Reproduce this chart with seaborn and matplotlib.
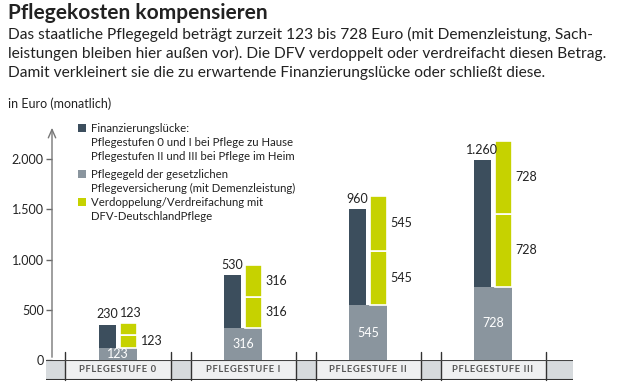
import numpy as np
import matplotlib.pyplot as plt
import matplotlib.ticker as mticker
from matplotlib.patches import Rectangle
import seaborn as sns
import pandas as pd

# Daten
stufen = ['PFLEGESTUFE 0', 'PFLEGESTUFE I', 'PFLEGESTUFE II', 'PFLEGESTUFE III']
pflegegeld = [123, 316, 545, 728]
luecke = [230, 530, 960, 1260]

c_dark = '#3c4e5d'
c_grey = '#8a959e'
c_yellow = '#c6d200'
c_text = '#222222'

sns.set_theme(style='white')
plt.rcParams['font.family'] = ['Lato', 'DejaVu Sans']

W, H = 621, 383
fig = plt.figure(figsize=(W / 100, H / 100), dpi=100)


def px(x, y):
    return x / W, 1 - y / H


# Titel und Text
fig.text(*px(8, 13), 'Pflegekosten kompensieren', fontsize=15, fontweight='bold',
         color=c_text, va='center', ha='left')
unter = ['Das staatliche Pflegegeld beträgt zurzeit 123 bis 728 Euro (mit Demenzleistung, Sach-',
         'leistungen bleiben hier außen vor). Die DFV verdoppelt oder verdreifacht diesen Betrag.',
         'Damit verkleinert sie die zu erwartende Finanzierungslücke oder schließt diese.']
for i, zeile in enumerate(unter):
    fig.text(*px(8, 34 + i * 19.5), zeile, fontsize=11.2, color=c_text, va='center', ha='left')
fig.text(*px(8, 104), 'in Euro (monatlich)', fontsize=9, color=c_text, va='center', ha='left')

# Hauptachse
ax = fig.add_axes([52 / W, (H - 360) / H, (573 - 52) / W, (360 - 125) / H])
df = pd.DataFrame({'stufe': stufen, 'pflegegeld': pflegegeld})
sns.barplot(data=df, x='stufe', y='pflegegeld', color=c_grey, width=0.3,
            saturation=1, ax=ax, linewidth=0)

x = np.arange(len(stufen))
bw = 0.13
ax.bar(x - 0.085, luecke, width=bw, bottom=pflegegeld, color=c_dark, linewidth=0)
for k in range(2):
    ax.bar(x + 0.085, pflegegeld, width=bw + 0.01,
           bottom=np.array(pflegegeld) * (k + 1), color=c_yellow,
           edgecolor='white', linewidth=1.2)

# Beschriftungen
for i in range(len(stufen)):
    g = pflegegeld[i]
    ax.text(x[i], g / 2, str(g), color='white', ha='center', va='center', fontsize=9)
    top = g + luecke[i]
    ax.annotate(f'{luecke[i]:,}'.replace(',', '.'), (x[i] - 0.085, top), xytext=(0, 3),
                textcoords='offset points', ha='center', va='bottom', fontsize=9, color=c_text)
    for k in range(2):
        mitte = g * (k + 1) + g / 2
        if i == 0 and k == 1:
            ax.annotate(str(g), (x[i] + 0.105, g * 3), xytext=(0, 3),
                        textcoords='offset points', ha='center', va='bottom',
                        fontsize=9, color=c_text)
        else:
            ax.text(x[i] + 0.085 + bw / 2 + 0.03, mitte, str(g), ha='left', va='center',
                    fontsize=9, color=c_text)

ax.set_xlim(-0.528, 3.64)
ax.set_ylim(0, 2340)
ax.set_xticks([])
ax.set_xlabel('')
ax.set_ylabel('')
ax.set_yticks([0, 500, 1000, 1500, 2000])
ax.yaxis.set_major_formatter(mticker.FuncFormatter(lambda v, p: f'{v:,.0f}'.replace(',', '.')))
ax.tick_params(axis='y', left=True, length=4, width=1, color='#666666', labelsize=9,
               labelcolor=c_text, pad=2)
for s in ['top', 'right', 'bottom', 'left']:
    ax.spines[s].set_visible(False)
ax.patch.set_alpha(0)
ax.annotate('', xy=(0, 1), xytext=(0, 0), xycoords='axes fraction',
            arrowprops=dict(arrowstyle='->,head_length=0.5,head_width=0.22',
                            color='#777777', lw=1))

# Legende
legende = [
    (c_dark, ['Finanzierungslücke:', 'Pflegestufen 0 und I bei Pflege zu Hause',
              'Pflegestufen II und III bei Pflege im Heim'], 128),
    (c_grey, ['Pflegegeld der gesetzlichen', 'Pflegeversicherung (mit Demenzleistung)'], 174),
    (c_yellow, ['Verdoppelung/Verdreifachung mit', 'DFV-DeutschlandPflege'], 202),
]
for farbe, zeilen, y0 in legende:
    fig.add_artist(Rectangle(px(78, y0 + 4), 8 / W, 8 / H, transform=fig.transFigure,
                             color=farbe, linewidth=0))
    for j, z in enumerate(zeilen):
        fig.text(*px(91, y0 + j * 14), z, fontsize=8.2, color=c_text, va='center', ha='left')

# Kategorienband unten
bx = fig.add_axes([46 / W, (H - 380) / H, (573 - 46) / W, 20 / H])
bx.set_xlim(-0.576, 3.64)
bx.set_ylim(0, 1)
bx.axvspan(-0.576, 3.64, color='#eff0f1', linewidth=0)
luecken = [(-0.576, -0.42)] + [(k + 0.42, k + 0.58) for k in range(3)] + [(3.42, 3.64)]
for a, b in luecken:
    bx.axvspan(a, b, color='#d6dadd', linewidth=0)
for k in range(4):
    for xs in (k - 0.42, k + 0.42):
        bx.plot([xs, xs], [0, 1.4], color='#333333', lw=1, clip_on=False)
    gesperrt = '\u200a'.join(stufen[k])
    bx.text(k, 0.5, gesperrt, ha='center', va='center', fontsize=6.8,
            fontweight='bold', color='#555555')
bx.axhline(1, color='#444444', lw=1.5)
bx.axhline(0, color='#333333', lw=1.5)
bx.set_xticks([])
bx.set_yticks([])
for s in bx.spines.values():
    s.set_visible(False)

fig.savefig('out.png', dpi=100)
